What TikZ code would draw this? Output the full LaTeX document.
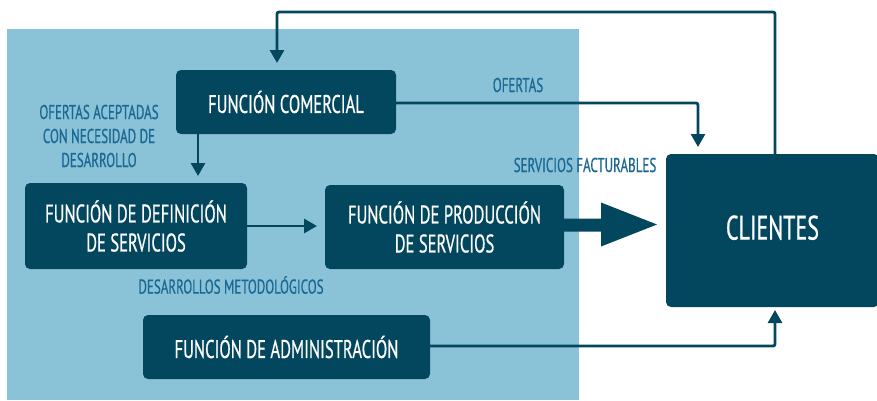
\documentclass[tikz,border=0pt]{standalone}
\usepackage{fontspec}
\setmainfont[FakeStretch=0.65,FakeBold=0.6]{PT Sans}
\usetikzlibrary{arrows.meta,calc}
\definecolor{dark}{HTML}{03475F}
\definecolor{lightbg}{HTML}{8AC3D7}
\definecolor{lbl}{HTML}{1B6893}
\tikzset{
  box/.style={fill=dark, rounded corners=5pt, text=white, align=center, inner sep=0pt, outer sep=0pt, font=\fontsize{25.5}{29}\selectfont},
  lab/.style={text=lbl, align=center, inner sep=0pt, font=\fontsize{20}{24}\selectfont},
  conn/.style={draw=dark, line width=2.8pt, rounded corners=2pt, -{Triangle[width=14pt,length=13pt]}, shorten >=7pt}
}
\begin{document}
\begin{tikzpicture}[x=1pt,y=-1pt]
\useasboundingbox (0,0) rectangle (877,400);
\clip (0,0) rectangle (877,400);
\fill[lightbg] (7,29) rectangle (579,400);
\node[box, minimum width=220, minimum height=64] (com) at (286,102) {FUNCIÓN COMERCIAL};
\node[box, minimum width=222, minimum height=86] (def) at (136,226) {FUNCIÓN DE DEFINICIÓN\\DE SERVICIOS};
\node[box, minimum width=239, minimum height=84] (prod) at (444.5,227) {FUNCIÓN DE PRODUCCIÓN\\DE SERVICIOS};
\node[box, minimum width=287, minimum height=64] (adm) at (286.5,347) {FUNCIÓN DE ADMINISTRACIÓN};
\node[box, minimum width=213, minimum height=153, font=\fontsize{34}{38}\selectfont] (cli) at (772.5,230.5) {\raisebox{6pt}{CLIENTES}};
% connectors
\coordinate (c1) at (775,12);
\coordinate (c2) at (277,12);
\draw[conn] (cli.north -| c1) -- (c1) -- (c2) -- (com.north -| c2);
\coordinate (c3) at (698,103);
\draw[conn] (com.east |- c3) -- (c3) -- (cli.north -| c3);
\coordinate (c4) at (198,134);
\draw[conn] (com.south -| c4) -- (def.north -| c4);
\coordinate (c5) at (247,226);
\draw[conn, shorten >=8pt] (def.east |- c5) -- (prod.west |- c5);
\coordinate (c6) at (775,346);
\draw[conn, shorten >=3pt] (adm.east |- c6) -- (c6) -- (cli.south -| c6);
% big arrow
\fill[dark] ($(prod.east)+(0,-8.5)$) -- ++(37,0) -- ++(0,-16) -- ++(56,22) -- ++(-56,22) -- ++(0,-15) -- ++(-37,0) -- cycle;
% labels
\node[lab] at (99,136) {OFERTAS ACEPTADAS\\CON NECESIDAD DE\\DESARROLLO};
\node[lab] at (518,85) {OFERTAS};
\node[lab] at (585,165) {SERVICIOS FACTURABLES};
\node[lab] at (231,285) {DESARROLLOS METODOLÓGICOS};
\end{tikzpicture}
\end{document}
